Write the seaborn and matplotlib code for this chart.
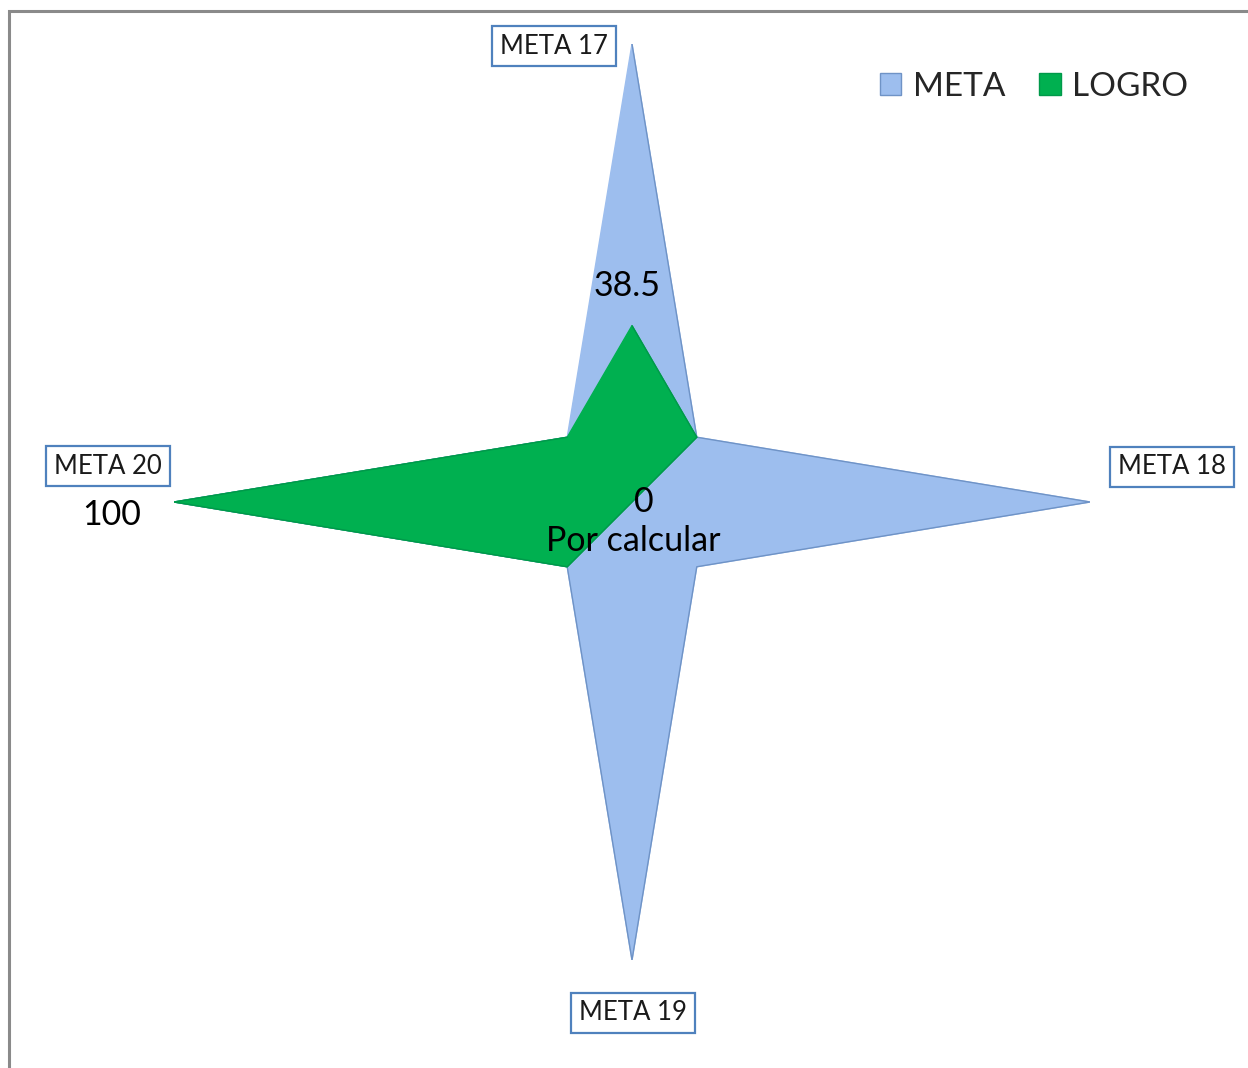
import numpy as np
import pandas as pd
import matplotlib
matplotlib.use("Agg")
import matplotlib.pyplot as plt
from matplotlib.patches import Rectangle
import seaborn as sns

# Radar axes: named goals alternate with unnamed spacer spokes
categories = ["META 17", "", "META 18", "", "META 19", "", "META 20", ""]
meta_values = [100, 20, 100, 20, 100, 20, 100, 20]
logro_values = [38.5, 20, 0, 0, 0, 20, 100, 20]
logro_labels = ["38.5", None, "0", None, "Por calcular", None, "100", None]
series_names = ["META", "LOGRO"]

sns.set_theme(style="white")
plt.rcParams["font.family"] = ["Lato", "DejaVu Sans"]
palette = {"META": "#9DBEEE", "LOGRO": "#00B050"}
edges = {"META": "#6F93C6", "LOGRO": "#00994A"}

fig = plt.figure(figsize=(12.48, 10.68), dpi=100)
fig.patch.set_facecolor("white")

# chart-area frame
fig.add_artist(Rectangle((9 / 1248, -0.05), 1.2, (1068 - 11) / 1068 + 0.05,
                         transform=fig.transFigure, fill=False,
                         edgecolor="#8A8A8A", linewidth=2.2))

W, H = 1248, 1068
cx, cy, R = 632, 502, 458
ax = fig.add_axes([(cx - R) / W, (H - cy - R) / H, 2 * R / W, 2 * R / H],
                  projection="polar")
ax.set_theta_zero_location("N")
ax.set_theta_direction(-1)

n = len(categories)
theta = np.arange(n) * 2 * np.pi / n
df = pd.DataFrame({"theta": np.tile(theta, 2),
                   "value": meta_values + logro_values,
                   "serie": np.repeat(series_names, n)})

for name in series_names:
    sub = df[df["serie"] == name]
    t = np.append(sub["theta"].values, sub["theta"].values[0])
    v = np.append(sub["value"].values, sub["value"].values[0])
    ax.fill(t, v, color=palette[name], zorder=2 if name == "META" else 3,
            label=name)
    sns.lineplot(x=t, y=v, sort=False, ax=ax, color=edges[name],
                 linewidth=1.0, zorder=2.1 if name == "META" else 3.1,
                 legend=False)

ax.set_ylim(0, 100)
ax.set_xticks([])
ax.set_yticks([])
ax.grid(False)
ax.spines["polar"].set_visible(False)
ax.set_facecolor("none")

# category labels in boxes
cat_offsets = {"META 17": (-78, -2), "META 18": (82, 35),
               "META 19": (1, -53), "META 20": (-66, 36)}
for th, cat, val in zip(theta, categories, meta_values):
    if not cat:
        continue
    ax.annotate(cat, xy=(th, val), xytext=cat_offsets[cat],
                textcoords="offset pixels", ha="center", va="center",
                fontsize=18.5, color="#1A1A1A", zorder=5,
                bbox=dict(boxstyle="square,pad=0.3", facecolor="white",
                          edgecolor="#4F81BD", linewidth=1.6))

# LOGRO data labels
lab_offsets = {"38.5": (-5, 40), "0": (12, 0), "Por calcular": (1, -39),
               "100": (-62, -13)}
for th, val, lab in zip(theta, logro_values, logro_labels):
    if lab is None:
        continue
    ax.annotate(lab, xy=(th, val), xytext=lab_offsets[lab],
                textcoords="offset pixels", ha="center", va="center",
                fontsize=24.5, color="black", zorder=6)

handles = [Rectangle((0, 0), 1, 1, facecolor=palette[s], edgecolor=edges[s])
           for s in series_names]
fig.legend(handles, series_names, loc="center", ncol=2, frameon=False,
           bbox_to_anchor=(1034 / W, 1 - 87 / H), fontsize=24,
           handlelength=0.65, handleheight=0.65, handletextpad=0.35,
           columnspacing=1.0)

fig.savefig("out.png", dpi=100, facecolor="white")
